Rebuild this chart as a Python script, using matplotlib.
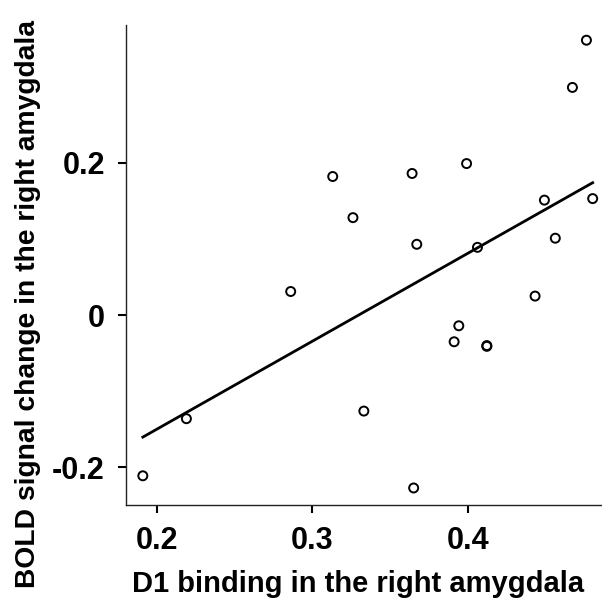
import numpy as np
import matplotlib
matplotlib.use("Agg")
import matplotlib.pyplot as plt

# ------------------------
# DATA
# ------------------------

d1_binding = [0.191, 0.219, 0.286, 0.313, 0.326, 0.333, 0.364, 0.367, 0.365,
              0.391, 0.394, 0.399, 0.406, 0.412, 0.412, 0.443, 0.449, 0.456,
              0.467, 0.476, 0.480]
bold_change = [-0.211, -0.136, 0.031, 0.182, 0.128, -0.126, 0.186, 0.093, -0.227,
               -0.035, -0.014, 0.199, 0.089, -0.040, -0.041, 0.025, 0.151, 0.101,
               0.299, 0.361, 0.153]

fit_slope = 1.156
fit_intercept = -0.381

x_ticks = [0.2, 0.3, 0.4]
y_ticks = [-0.2, 0, 0.2]
y_tick_labels = ["-0.2", "0", "0.2"]

# ------------------------
# FIGURE
# ------------------------

plt.rcParams['font.family'] = ['Liberation Sans', 'DejaVu Sans']
plt.rcParams['font.weight'] = 'bold'

fig = plt.figure(figsize=(6.02, 5.99), dpi=100)
ax = fig.add_axes([0.2088, 0.1561, 0.7912, 0.8022])

ax.scatter(d1_binding, bold_change, s=42, facecolors='none',
           edgecolors='black', linewidths=1.4, zorder=3, clip_on=False)

fit_x = np.array([min(d1_binding), max(d1_binding)])
ax.plot(fit_x, fit_slope * fit_x + fit_intercept, color='black',
        linewidth=2.0, zorder=2, clip_on=False)

# ------------------------
# AXES
# ------------------------

ax.set_xlim(0.180, 0.486)
ax.set_ylim(-0.250, 0.381)

ax.spines['top'].set_visible(False)
ax.spines['right'].set_visible(False)
for side in ['left', 'bottom']:
    ax.spines[side].set_linewidth(1.0)
    ax.spines[side].set_color('#222222')

ax.set_xticks(x_ticks)
ax.set_xticklabels([str(t) for t in x_ticks])
ax.set_yticks(y_ticks)
ax.set_yticklabels(y_tick_labels)
ax.tick_params(direction='out', length=6, width=1.5, labelsize=22, pad=9)

ax.set_xlabel("D1 binding in the right amygdala", fontsize=21, fontweight='bold')
ax.xaxis.set_label_coords(0.487, -0.163)
ax.xaxis.label.set_verticalalignment('center')

ax.set_ylabel("BOLD signal change in the right amygdala", fontsize=20.3, fontweight='bold')
ax.yaxis.set_label_coords(-0.205, 0.42)
ax.yaxis.label.set_verticalalignment('center')

fig.savefig("out.png", dpi=100)
